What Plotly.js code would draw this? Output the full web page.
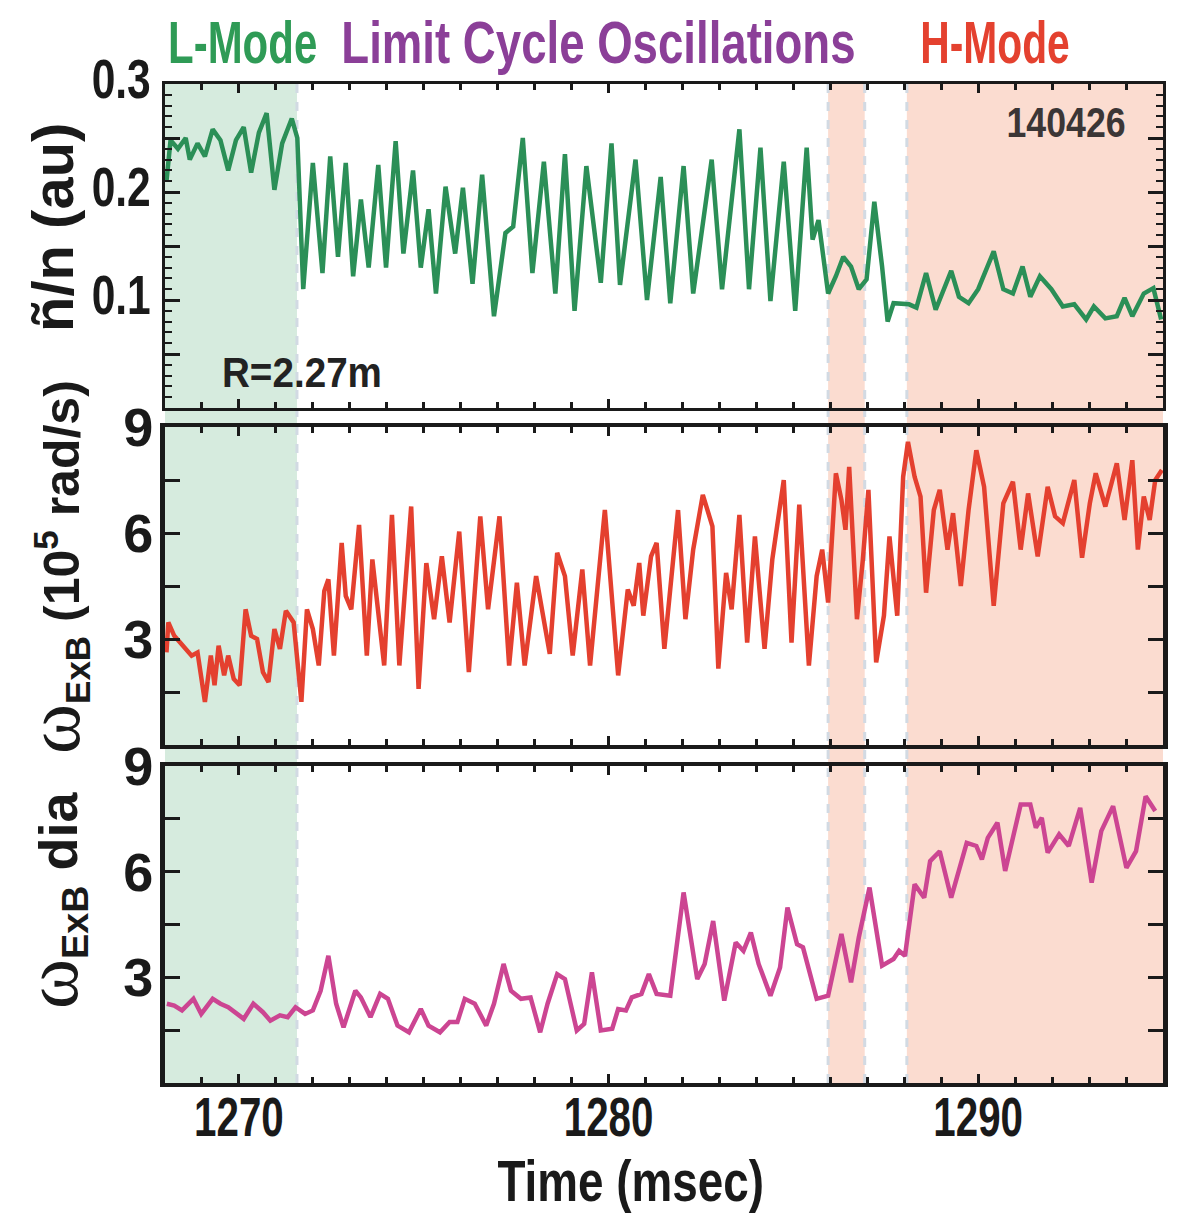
<!DOCTYPE html>
<html>
<head>
<meta charset="utf-8">
<script src="https://cdn.plot.ly/plotly-3.0.1.min.js"></script>
<style>html,body{margin:0;padding:0;background:#fff;}#chart{width:1193px;height:1224px;}</style>
</head>
<body>
<div id="chart"></div>
<script>
// ---------- data ----------
const timeRange = [1268, 1295];
const lModeEnd = 1271.57;
const lcoBurst = [1285.94, 1286.93];
const hModeStart = 1288.07;

const t1 = [1268.04,1268.15,1268.35,1268.56,1268.67,1268.88,1269.08,1269.29,1269.5,1269.71,1269.92,1270.13,1270.33,1270.54,1270.75,1270.96,1271.17,1271.43,1271.58,1271.74,1272.0,1272.26,1272.47,1272.68,1272.89,1273.09,1273.3,1273.51,1273.77,1273.98,1274.24,1274.45,1274.71,1274.92,1275.13,1275.33,1275.59,1275.85,1276.06,1276.32,1276.58,1276.9,1277.21,1277.42,1277.68,1277.94,1278.25,1278.56,1278.82,1279.08,1279.4,
 1279.79,1280.08,1280.31,1280.73,1281.04,1281.41,1281.67,1282.03,1282.29,1282.79,1283.07,1283.54,1283.8,1284.11,1284.38,1284.74,1285.05,1285.36,1285.52,1285.68,1285.94,1286.15,1286.35,1286.56,1286.77,1286.98,1287.19,1287.4,1287.55,1287.71,1288.13,1288.33,1288.59,1288.85,1289.27,1289.48,1289.74,1290.0,1290.42,1290.68,1290.94,1291.2,1291.41,1291.67,1291.98,1292.29,1292.6,1292.92,1293.13,1293.44,1293.75,1293.96,1294.17,1294.48,1294.74,1294.95];
const nFluct = [0.21,0.248,0.24,0.25,0.23,0.245,0.233,0.258,0.248,0.22,0.248,0.26,0.218,0.255,0.273,0.202,0.245,0.268,0.25,0.11,0.227,0.125,0.233,0.14,0.227,0.122,0.193,0.13,0.225,0.13,0.247,0.143,0.22,0.13,0.184,0.106,0.205,0.143,0.204,0.115,0.216,0.085,0.162,0.168,0.25,0.125,0.228,0.106,0.235,0.09,0.224,
 0.116,0.245,0.114,0.23,0.1,0.214,0.097,0.224,0.106,0.23,0.11,0.258,0.11,0.241,0.099,0.228,0.09,0.241,0.156,0.174,0.106,0.122,0.14,0.131,0.11,0.119,0.191,0.131,0.08,0.097,0.096,0.093,0.125,0.091,0.127,0.103,0.097,0.11,0.145,0.11,0.106,0.131,0.103,0.122,0.11,0.094,0.096,0.082,0.094,0.083,0.085,0.102,0.085,0.106,0.111,0.082];

const t2 = [1268.04,1268.09,1268.25,1268.41,1268.56,1268.72,1268.88,1269.08,1269.24,1269.34,1269.45,1269.6,1269.71,1269.86,1270.02,1270.18,1270.33,1270.49,1270.65,1270.8,1270.96,1271.11,1271.27,1271.48,1271.69,1271.84,1272.0,1272.16,1272.31,1272.42,1272.57,1272.78,1272.89,1273.04,1273.25,1273.46,1273.61,1273.77,1273.93,1274.14,1274.34,1274.66,1274.86,1275.07,1275.28,1275.49,1275.7,1275.96,1276.22,1276.53,1276.74,1277.05,1277.31,1277.52,1277.73,1278.04,1278.41,1278.61,1278.82,1279.03,1279.29,1279.5,
 1279.9,1280.26,1280.52,1280.68,1280.83,1280.94,1281.15,1281.3,1281.51,1281.88,1282.08,1282.29,1282.55,1282.81,1282.97,1283.18,1283.33,1283.54,1283.75,1283.96,1284.22,1284.43,1284.58,1284.74,1284.95,1285.16,1285.42,1285.63,1285.78,1285.94,1286.15,1286.3,1286.41,1286.51,1286.72,1286.88,1287.03,1287.24,1287.45,1287.6,1287.81,1287.97,1288.1,1288.28,1288.44,1288.59,1288.8,1288.96,1289.17,1289.32,1289.53,1289.74,1289.95,1290.16,1290.42,1290.68,1290.94,1291.15,1291.35,1291.61,1291.88,1292.08,1292.29,1292.6,1292.81,1293.02,1293.18,1293.44,1293.75,1293.96,1294.17,1294.32,1294.48,1294.64,1294.79,1294.97];
const wExB = [2.62,3.47,3.09,2.9,2.72,2.53,2.62,1.22,2.53,1.69,2.81,1.97,2.53,1.87,1.69,3.84,3.09,3.0,2.06,1.78,3.28,2.72,3.8,3.47,1.22,3.84,3.28,2.25,4.36,4.69,2.53,5.72,4.22,3.84,6.23,2.53,5.25,3.84,2.25,6.51,2.25,6.75,1.59,5.15,3.56,5.34,3.47,6.04,2.06,6.47,3.84,6.47,2.25,4.59,2.25,4.78,2.58,5.44,4.78,2.53,4.97,2.25,
 6.65,1.97,4.4,3.94,5.15,3.66,5.34,5.72,2.72,6.65,3.56,5.53,7.08,6.19,2.16,4.87,3.84,6.51,2.9,5.9,2.72,5.25,6.28,7.5,2.9,6.8,2.25,4.78,5.53,4.03,7.69,6.94,6.09,7.87,3.56,5.25,7.22,2.34,3.66,5.9,3.66,7.59,8.58,7.59,7.03,4.31,6.65,7.22,5.53,6.56,4.5,6.65,8.34,7.31,3.94,6.84,7.45,5.53,7.12,5.34,7.31,6.47,6.28,7.5,5.3,6.84,7.69,6.75,7.97,6.37,8.06,5.53,7.03,6.37,7.5,7.78];

const t3 = [1268.05,1268.25,1268.46,1268.77,1268.98,1269.29,1269.5,1269.71,1270.13,1270.39,1270.65,1270.85,1271.11,1271.32,1271.53,1271.79,1272.0,1272.21,1272.42,1272.63,1272.83,1273.15,1273.3,1273.56,1273.82,1274.03,1274.29,1274.6,1274.92,1275.13,1275.44,1275.7,1275.91,1276.11,1276.38,1276.69,1276.9,1277.16,1277.36,1277.63,1277.89,1278.15,1278.35,1278.61,1278.82,1279.14,1279.34,1279.55,
 1279.79,1280.1,1280.26,1280.47,1280.63,1280.89,1281.09,1281.3,1281.67,1282.03,1282.4,1282.6,1282.83,1283.13,1283.44,1283.65,1283.85,1284.06,1284.38,1284.64,1284.84,1285.1,1285.26,1285.63,1285.94,1286.3,1286.56,1286.77,1287.06,1287.4,1287.71,1287.86,1288.02,1288.28,1288.54,1288.7,1288.96,1289.27,1289.69,1289.95,1290.1,1290.26,1290.52,1290.73,1291.15,1291.41,1291.56,1291.72,1291.88,1292.19,1292.45,1292.76,1293.07,1293.33,1293.65,1294.01,1294.27,1294.53,1294.79];
const wDia = [2.25,2.2,2.06,2.39,1.96,2.39,2.25,2.15,1.82,2.25,2.01,1.77,1.92,1.87,2.15,1.96,2.06,2.62,3.61,2.25,1.58,2.62,2.43,1.87,2.53,2.39,1.63,1.44,2.1,1.63,1.44,1.73,1.73,2.39,2.25,1.63,2.25,3.38,2.62,2.39,2.43,1.44,2.25,3.09,2.95,1.49,1.68,3.14,
 1.49,1.54,2.1,2.06,2.43,2.53,3.09,2.53,2.48,5.41,2.95,3.38,4.6,2.34,3.99,3.75,4.27,3.38,2.48,3.28,4.98,3.94,3.85,2.39,2.48,4.23,2.86,4.13,5.55,3.33,3.52,3.75,3.61,5.64,5.26,6.3,6.58,5.26,6.82,6.73,6.35,6.96,7.39,6.02,7.91,7.91,7.25,7.53,6.54,7.06,6.73,7.81,5.69,7.15,7.86,6.11,6.58,8.14,7.72];

const yTicks1 = [0.1,0.2,0.3];
const yText1 = ['0.1','0.2','0.3'];
const yTicks1minor = [0.05,0.15,0.25];
const yTicksW = [3,6,9];
const yTextW = ['3','6','9'];
const yTicksWminor = [1.5,4.5,7.5];
const xTickVals = [1270,1280,1290];
const xTickText = ['1270','1280','1290'];

// ---------- styling ----------
const FONT = '"Liberation Sans", Arial, Helvetica, sans-serif';
const INK = '#1a1a1a';
const W = 1193, H = 1224;
const L = 165, R = 1163, T = 84, B = 1083;
const px = x => (x - L) / (R - L);
const py = y => (B - y) / (B - T);

function xAx(anchor, showLabels) {
  return {
    range: timeRange, anchor: anchor, domain: [0, 1],
    showline: true, linecolor: INK, linewidth: anchor === 'y' ? 3 : 4, mirror: 'ticks',
    ticks: 'inside', tickmode: 'array', tickvals: xTickVals, ticktext: xTickText, ticklen: 9, tickwidth: 3, tickcolor: INK,
    minor: {dtick: 1, tick0: 1270, ticks: 'inside', ticklen: 6, tickwidth: 3, tickcolor: INK, showgrid: false},
    showgrid: false, zeroline: false, showticklabels: showLabels,
    tickfont: {family: FONT, size: 56, color: INK, weight: 700},
    ticklabelstandoff: -18
  };
}
function yAx(domain, range, vals, text, lw, size, standoff, shift, minor) {
  return {
    domain: domain, range: range, showline: true, linecolor: INK, linewidth: lw, mirror: 'ticks',
    ticks: 'inside', tickmode: 'array', tickvals: vals, ticktext: text, ticklen: 15, tickwidth: 3, tickcolor: INK,
    minor: minor, showgrid: false, zeroline: false,
    tickfont: {family: FONT, size: size, color: INK, weight: 700},
    ticklabelstandoff: standoff, ticklabelshift: shift
  };
}

const traces = [
  {x: t1, y: nFluct, xaxis: 'x', yaxis: 'y', mode: 'lines', line: {color: '#2b8f57', width: 4.5}, hoverinfo: 'skip'},
  {x: t2, y: wExB, xaxis: 'x2', yaxis: 'y2', mode: 'lines', line: {color: '#e4402f', width: 4.5}, hoverinfo: 'skip'},
  {x: t3, y: wDia, xaxis: 'x3', yaxis: 'y3', mode: 'lines', line: {color: '#cc4592', width: 4.5}, hoverinfo: 'skip'}
];

const shapes = [
  {type: 'rect', xref: 'x', yref: 'paper', x0: timeRange[0], x1: lModeEnd, y0: 0, y1: 1, fillcolor: '#d6ebde', line: {width: 0}, layer: 'below'},
  {type: 'rect', xref: 'x', yref: 'paper', x0: lcoBurst[0], x1: lcoBurst[1], y0: 0, y1: 1, fillcolor: '#fbdcd0', line: {width: 0}, layer: 'below'},
  {type: 'rect', xref: 'x', yref: 'paper', x0: hModeStart, x1: timeRange[1], y0: 0, y1: 1, fillcolor: '#fbdcd0', line: {width: 0}, layer: 'below'}
];
[lModeEnd, lcoBurst[0], lcoBurst[1], hModeStart].forEach(v => shapes.push(
  {type: 'line', xref: 'x', yref: 'paper', x0: v, x1: v, y0: 0, y1: 1, line: {color: '#d2dae3', width: 3, dash: 'dash'}, layer: 'below'}
));

// horizontal squeeze factors emulate the condensed typeface of the original
const squeeze = [];
function ann(text, x, y, size, color, sq, extra) {
  squeeze.push(sq);
  return Object.assign({text: text, xref: 'paper', yref: 'paper', x: px(x), y: py(y), xanchor: 'center', yanchor: 'middle',
    showarrow: false, font: {family: FONT, size: size, color: color, weight: 700}}, extra || {});
}
const OMEGA = '<span style="font-family:\'Liberation Serif\', \'DejaVu Serif\', serif;font-weight:normal;font-size:76px">ω</span>';

const annotations = [
  ann('L-Mode', 242, 43, 60, '#2f9b56', 0.70),
  ann('Limit Cycle Oscillations', 598, 43, 60, '#8b3f98', 0.76),
  ann('H-Mode', 995, 43, 60, '#e4412f', 0.68),
  ann('140426', 1066, 122, 42, '#3b3636', 0.85),
  ann('R=2.27m', 302, 372, 42, '#222222', 0.92),
  ann('ñ/n (au)', 53, 228, 58, INK, 1, {textangle: -90}),
  ann(OMEGA + '<sub>ExB</sub> (10<sup>5</sup> rad/s)', 54, 567, 50, INK, 1, {textangle: -90}),
  ann(OMEGA + '<sub>ExB</sub> dia', 52, 900, 54, INK, 1, {textangle: -90}),
  ann('Time (msec)', 630, 1180, 58, INK, 0.79)
];

const layout = {
  width: W, height: H, margin: {l: L, r: W - R, t: T, b: H - B},
  paper_bgcolor: '#ffffff', plot_bgcolor: 'rgba(0,0,0,0)', showlegend: false,
  xaxis: xAx('y', false),
  xaxis2: Object.assign(xAx('y2', false), {matches: 'x'}),
  xaxis3: Object.assign(xAx('y3', true), {matches: 'x'}),
  yaxis: yAx([py(408), 1], [0, 0.3], yTicks1, yText1, 3, 56, 0, -6,
    {dtick: 0.01, ticks: 'inside', ticklen: 7, tickwidth: 2, tickcolor: INK, showgrid: false}),
  // the longer unlabelled ticks at the half steps of panel 1 come from an overlaying tick-only axis
  yaxis4: {overlaying: 'y', anchor: 'x', range: [0, 0.3], tickmode: 'array', tickvals: yTicks1minor, ticks: 'inside',
    ticklen: 15, tickwidth: 3, tickcolor: INK, showticklabels: false, showline: false, mirror: 'ticks', showgrid: false, zeroline: false},
  yaxis2: yAx([py(745), py(427)], [0, 9], yTicksW, yTextW, 5, 54, -4, 0,
    {tickvals: yTicksWminor, ticks: 'inside', ticklen: 15, tickwidth: 3, tickcolor: INK, showgrid: false}),
  yaxis3: yAx([0, py(766)], [0, 9], yTicksW, yTextW, 5, 54, -4, 0,
    {tickvals: yTicksWminor, ticks: 'inside', ticklen: 15, tickwidth: 3, tickcolor: INK, showgrid: false}),
  shapes: shapes, annotations: annotations
};

// a tick-only helper trace so the overlaying axis is drawn
traces.push({x: [], y: [], xaxis: 'x', yaxis: 'y4', mode: 'lines', hoverinfo: 'skip'});

function squeezeText(el, s, anchor) {
  if (s === 1) return;
  const bb = el.getBBox();
  const cx = anchor === 'end' ? bb.x + bb.width : bb.x + bb.width / 2;
  const cur = el.getAttribute('transform') || '';
  el.setAttribute('transform', cur + ' translate(' + cx + ',0) scale(' + s + ',1) translate(' + (-cx) + ',0)');
}

Plotly.newPlot('chart', traces, layout, {staticPlot: true, displayModeBar: false}).then(gd => {
  gd.querySelectorAll('.annotation-text').forEach((el, i) => squeezeText(el, squeeze[i], 'middle'));
  gd.querySelectorAll('g.x3tick text').forEach(el => squeezeText(el, 0.72, 'middle'));
  gd.querySelectorAll('g.ytick text').forEach(el => squeezeText(el, 0.76, 'end'));
});
</script>
</body>
</html>
